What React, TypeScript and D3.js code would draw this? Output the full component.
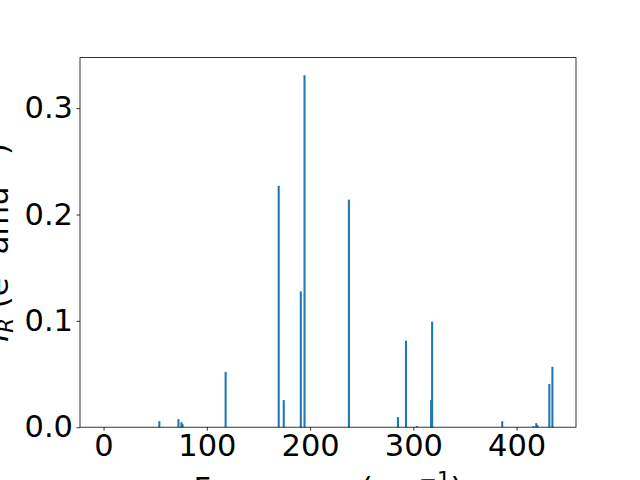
import React, { useEffect, useRef } from "react";
import * as d3 from "d3";

// vibrational modes: frequency (cm^-1) and IR intensity
const freqs = [0, 54, 72.5, 75.4, 76.5, 118.2, 169.6, 174.5, 191, 194.6, 237.6, 285.1, 292.9, 303.6, 317.2, 318.2, 386.1, 416.2, 419.1, 420.2, 431.7, 434.7];
const intensities = [0, 0.0057, 0.0076, 0.0047, 0.0028, 0.052, 0.227, 0.0255, 0.1277, 0.331, 0.214, 0.0095, 0.0814, 0.001, 0.0255, 0.0993, 0.0057, 0.001, 0.0038, 0.002, 0.0407, 0.0568];
const xTicks = [0, 100, 200, 300, 400];
const yTicks = [0, 0.1, 0.2, 0.3];

const W = 640;
const H = 480;
const barWidth = 2;
const fs = 30.5;
const fsSup = fs * 0.7;

const App = () => {
  const svgRef = useRef(null);

  useEffect(() => {
    const svg = d3.select(svgRef.current);
    svg.selectAll("*").remove();

    const margin = { top: 57.6, right: 64, bottom: 52.8, left: 80 };
    const x0 = d3.min(freqs) - barWidth / 2;
    const x1 = d3.max(freqs) + barWidth / 2;
    const padX = (x1 - x0) * 0.05;
    const yMax = d3.max(intensities) * 1.05;

    const x = d3.scaleLinear().domain([x0 - padX, x1 + padX]).range([margin.left, W - margin.right]);
    const y = d3.scaleLinear().domain([0, yMax]).range([H - margin.bottom, margin.top]);

    const font = "DejaVu Sans";

    // bars
    svg.append("g")
      .selectAll("rect")
      .data(freqs.map((f, i) => ({ f, v: intensities[i] })))
      .join("rect")
      .attr("x", (d) => x(d.f - barWidth / 2))
      .attr("width", (d) => x(d.f + barWidth / 2) - x(d.f - barWidth / 2))
      .attr("y", (d) => y(d.v))
      .attr("height", (d) => y(0) - y(d.v))
      .attr("fill", "#1f77b4");

    // x axis
    const xAxis = svg.append("g")
      .attr("transform", `translate(0,${H - margin.bottom})`)
      .call(d3.axisBottom(x).tickValues(xTicks).tickSize(3.5).tickPadding(3.5).tickFormat(d3.format("d")));
    xAxis.select(".domain").remove();
    xAxis.selectAll("line").attr("stroke", "#000").attr("stroke-width", 0.8);
    xAxis.selectAll("text").attr("font-family", font).attr("font-size", fs).attr("fill", "#000");

    // y axis
    const yAxis = svg.append("g")
      .attr("transform", `translate(${margin.left},0)`)
      .call(d3.axisLeft(y).tickValues(yTicks).tickSize(3.5).tickPadding(3.5).tickFormat(d3.format(".1f")));
    yAxis.select(".domain").remove();
    yAxis.selectAll("line").attr("stroke", "#000").attr("stroke-width", 0.8);
    yAxis.selectAll("text").attr("font-family", font).attr("font-size", fs).attr("fill", "#000");

    // frame
    svg.append("rect")
      .attr("x", margin.left)
      .attr("y", margin.top)
      .attr("width", W - margin.left - margin.right)
      .attr("height", H - margin.top - margin.bottom)
      .attr("fill", "none")
      .attr("stroke", "#000")
      .attr("stroke-width", 0.8);

    // x label
    const xl = svg.append("text")
      .attr("x", (margin.left + W - margin.right) / 2)
      .attr("y", 499)
      .attr("text-anchor", "middle")
      .attr("font-family", font)
      .attr("font-size", fs)
      .attr("fill", "#000");
    xl.append("tspan").text("Frequency (cm");
    xl.append("tspan").attr("font-size", fsSup).attr("dy", -12).text("\u22121");
    xl.append("tspan").attr("dy", 12).text(")");

    // y label
    const yl = svg.append("text")
      .attr("transform", `translate(8,${(margin.top + H - margin.bottom) / 2}) rotate(-90)`)
      .attr("text-anchor", "middle")
      .attr("font-family", font)
      .attr("font-size", fs)
      .attr("fill", "#000");
    yl.append("tspan").attr("font-style", "italic").text("I");
    yl.append("tspan").attr("font-style", "italic").attr("font-size", fsSup).attr("dy", 5).text("R");
    yl.append("tspan").attr("dy", -5).text(" (e");
    yl.append("tspan").attr("font-size", fsSup).attr("dy", -12).text("2");
    yl.append("tspan").attr("dy", 12).text(" amu");
    yl.append("tspan").attr("font-size", fsSup).attr("dy", -12).text("\u22121");
    yl.append("tspan").attr("dy", 12).text(")");
  }, []);

  return (
    <svg
      ref={svgRef}
      width={W}
      height={H}
      style={{ position: "absolute", left: 0, top: 0, background: "#fff" }}
    />
  );
};

export default App;
